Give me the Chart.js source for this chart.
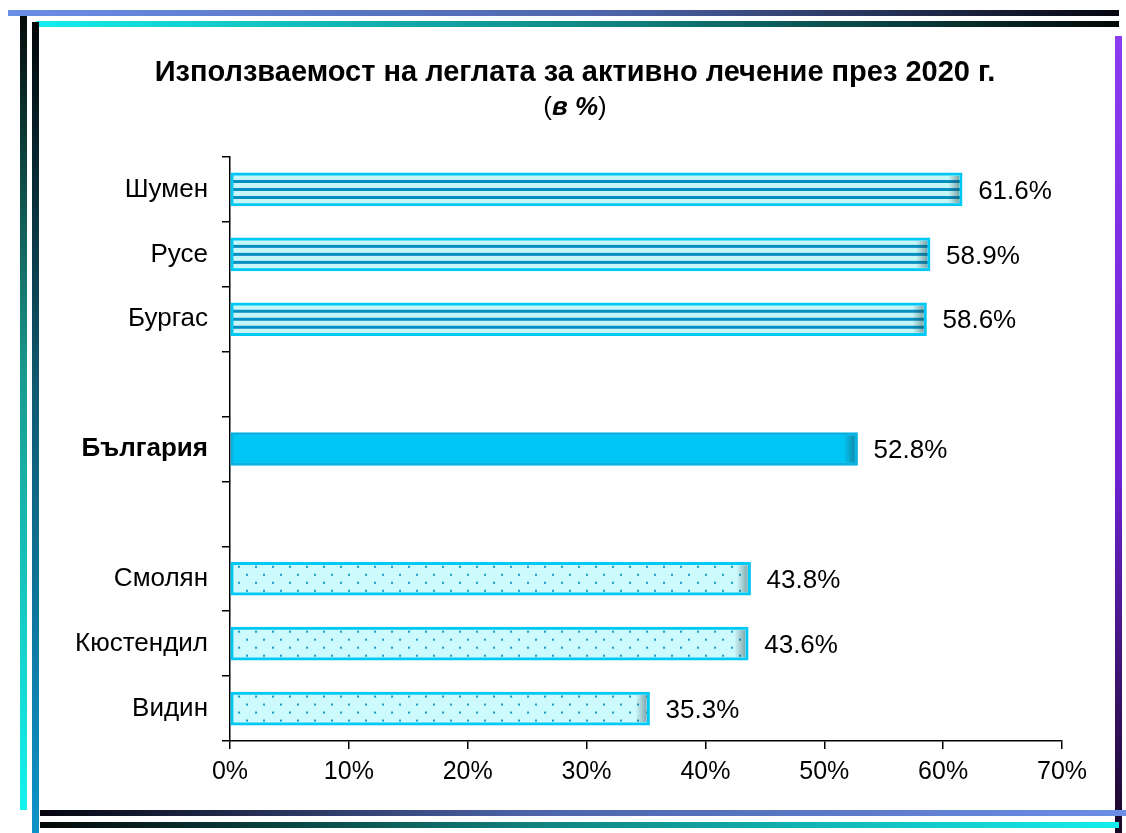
<!DOCTYPE html>
<html lang="bg">
<head>
    <meta charset="UTF-8">
    <title>Използваемост на леглата</title>
    <script src="https://cdn.jsdelivr.net/npm/chart.js"></script>
    <style>
        body { margin: 0; background: #fff; }
        #wrap { position: relative; width: 1126px; height: 833px; overflow: hidden; background: #fff; }
        #wrap canvas { position: absolute; left: 0; top: 0; }
        .rule { position: absolute; }
    </style>
</head>
<body>
<div id="wrap">
    <canvas id="usageChart" width="1126" height="833"></canvas>

    <!-- decorative frame -->
    <div class="rule" style="left:8px; top:10px; width:1111px; height:6px; background:linear-gradient(to right,#6b8ee6,#4c63a8 55%,#05050f);"></div>
    <div class="rule" style="left:36px; top:21px; width:1083px; height:6px; background:linear-gradient(to right,#14eeee,#10807c 55%,#040808);"></div>
    <div class="rule" style="left:20px; top:16px; width:7px; height:794px; background:linear-gradient(to bottom,#050a0a,#1a9a8e 45%,#14f2f0);"></div>
    <div class="rule" style="left:32px; top:22px; width:7px; height:811px; background:linear-gradient(to bottom,#020608,#0f5a70 45%,#0f92c8);"></div>
    <div class="rule" style="left:1115px; top:36px; width:7px; height:797px; background:linear-gradient(to bottom,#8a3cf0,#6e22d4 55%,#180826);"></div>
    <div class="rule" style="left:40px; top:810px; width:1086px; height:6px; background:linear-gradient(to right,#05050f,#4c63a8 45%,#6b8ee6);"></div>
    <div class="rule" style="left:40px; top:822px; width:1079px; height:6px; background:linear-gradient(to right,#040808,#10807c 45%,#14eeee);"></div>
</div>

<script>
    const regions = ['Шумен', 'Русе', 'Бургас', '', 'България', '', 'Смолян', 'Кюстендил', 'Видин'];
    const usage = [61.6, 58.9, 58.6, null, 52.8, null, 43.8, 43.6, 35.3];
    const country = 'България';
    const axisTicks = [0, 10, 20, 30, 40, 50, 60, 70];

    const FONT = 'Arial, "Liberation Sans", sans-serif';
    const nationalValue = usage[regions.indexOf(country)];

    // striped fill above the national value, dotted below, plain for the country itself
    function makeStripes(ctx, center) {
        const c = document.createElement('canvas');
        c.width = 8; c.height = 8;
        const g = c.getContext('2d');
        g.fillStyle = '#c6f6f8';
        g.fillRect(0, 0, 8, 8);
        g.fillStyle = '#068fc0';
        g.fillRect(0, 0, 8, 3);
        const p = ctx.createPattern(c, 'repeat');
        p.setTransform(new DOMMatrix().translate(0, center + 6.5));
        return p;
    }

    function makeDots(ctx, center) {
        const c = document.createElement('canvas');
        c.width = 17; c.height = 16;
        const g = c.getContext('2d');
        g.fillStyle = '#cdfafc';
        g.fillRect(0, 0, 17, 16);
        g.fillStyle = '#1a9cc6';
        g.fillRect(0, 0, 2, 2);
        g.fillRect(8, 8, 2, 2);
        const p = ctx.createPattern(c, 'repeat');
        p.setTransform(new DOMMatrix().translate(238, center - 13));
        return p;
    }

    function barFill(context) {
        const v = context.raw;
        if (v == null) return 'transparent';
        const chart = context.chart;
        const center = chart.scales.y.getPixelForValue(context.dataIndex);
        if (regions[context.dataIndex] === country) return '#00c6f6';
        return v > nationalValue ? makeStripes(chart.ctx, center) : makeDots(chart.ctx, center);
    }

    const headingPlugin = {
        id: 'heading',
        afterDraw(chart) {
            const ctx = chart.ctx;
            const cx = 575;
            ctx.save();
            ctx.fillStyle = '#000';
            ctx.textBaseline = 'middle';
            ctx.textAlign = 'center';
            ctx.font = 'bold 29px ' + FONT;
            ctx.fillText('Използваемост на леглата за активно лечение през 2020 г.', cx, 73);

            // "(в %)" with the unit in bold italic
            const parts = [
                ['(', '26px ' + FONT],
                ['в %', 'italic bold 26px ' + FONT],
                [')', '26px ' + FONT]
            ];
            let total = 0;
            parts.forEach(p => { ctx.font = p[1]; total += ctx.measureText(p[0]).width; });
            let x = cx - total / 2;
            ctx.textAlign = 'left';
            parts.forEach(p => {
                ctx.font = p[1];
                ctx.fillText(p[0], x, 108);
                x += ctx.measureText(p[0]).width;
            });
            ctx.restore();
        }
    };

    const valueLabels = {
        id: 'valueLabels',
        afterDatasetsDraw(chart) {
            const ctx = chart.ctx;
            const meta = chart.getDatasetMeta(0);
            ctx.save();
            meta.data.forEach((bar, i) => {
                const v = usage[i];
                if (v == null) return;
                const h = bar.height;
                const top = bar.y - h / 2;
                // soft shade at the end of each bar
                const grad = ctx.createLinearGradient(bar.x - 14, 0, bar.x - 3, 0);
                grad.addColorStop(0, 'rgba(40,70,80,0)');
                grad.addColorStop(1, 'rgba(40,70,80,0.45)');
                ctx.fillStyle = grad;
                ctx.fillRect(bar.x - 14, top + 3, 11, h - 6);

                ctx.fillStyle = '#000';
                ctx.font = '26px ' + FONT;
                ctx.textBaseline = 'middle';
                ctx.textAlign = 'left';
                ctx.fillText(v.toFixed(1) + '%', bar.x + 16, bar.y + 2);
            });
            ctx.restore();
        }
    };

    new Chart(document.getElementById('usageChart'), {
        type: 'bar',
        data: {
            labels: regions,
            datasets: [{
                data: usage,
                backgroundColor: barFill,
                borderColor: ctx => regions[ctx.dataIndex] === country ? '#0ab2e2' : '#00c8f4',
                borderWidth: 3,
                borderSkipped: false,
                barThickness: 33
            }]
        },
        options: {
            indexAxis: 'y',
            responsive: false,
            devicePixelRatio: 1,
            animation: false,
            layout: { padding: { top: 157, bottom: 42, left: 0, right: 64 } },
            plugins: {
                legend: { display: false },
                tooltip: { enabled: false }
            },
            scales: {
                x: {
                    min: axisTicks[0],
                    max: axisTicks[axisTicks.length - 1],
                    afterBuildTicks: s => { s.ticks = axisTicks.map(v => ({ value: v })); },
                    ticks: {
                        callback: v => v + '%',
                        color: '#000',
                        padding: 8,
                        font: { family: FONT, size: 25 }
                    },
                    grid: { drawOnChartArea: false, tickLength: 8, color: '#000', lineWidth: 1.5 },
                    border: { color: '#000', width: 1.5 },
                    afterFit: s => { s.height = 50; }
                },
                y: {
                    ticks: {
                        autoSkip: false,
                        color: '#000',
                        padding: 14,
                        font: ctx => ({
                            family: FONT,
                            size: 26,
                            weight: ctx.tick && ctx.tick.label === country ? 'bold' : 'normal'
                        })
                    },
                    grid: { offset: true, drawOnChartArea: false, tickLength: 8, color: '#000', lineWidth: 1.5 },
                    border: { color: '#000', width: 1.5 },
                    afterFit: s => { s.width = 230; }
                }
            }
        },
        plugins: [headingPlugin, valueLabels]
    });
</script>
</body>
</html>
